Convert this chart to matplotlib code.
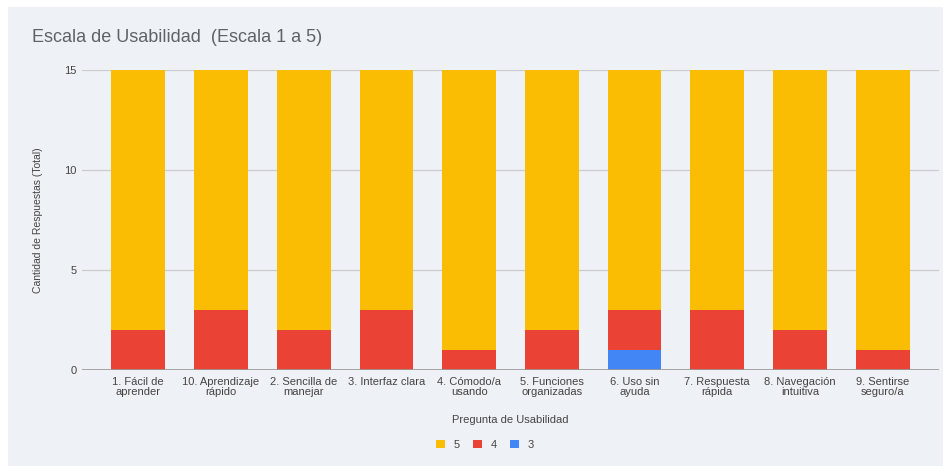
import matplotlib
matplotlib.use("Agg")
import matplotlib.pyplot as plt
from matplotlib.patches import Rectangle
import numpy as np

plt.rcParams["font.family"] = ["Liberation Sans", "DejaVu Sans"]

categories = ["1. Fácil de\naprender", "10. Aprendizaje\nrápido", "2. Sencilla de\nmanejar",
              "3. Interfaz clara", "4. Cómodo/a\nusando", "5. Funciones\norganizadas",
              "6. Uso sin\nayuda", "7. Respuesta\nrápida", "8. Navegación\nintuitiva",
              "9. Sentirse\nseguro/a"]
score_3 = [0, 0, 0, 0, 0, 0, 1, 0, 0, 0]
score_4 = [2, 3, 2, 3, 1, 2, 2, 3, 2, 1]
score_5 = [13, 12, 13, 12, 14, 13, 12, 12, 13, 14]

BG = "#eef1f6"
C5, C4, C3 = "#fbbc04", "#ea4335", "#4285f4"

fig = plt.figure(figsize=(9.45, 4.66), dpi=100)
fig.patch.set_facecolor("white")
fig.patches.append(Rectangle((8 / 945, 0), 1 - 10 / 945, 1 - 7 / 466,
                             transform=fig.transFigure, facecolor=BG,
                             edgecolor="none", zorder=-10))

ax = fig.add_axes([82 / 945, 1 - 370 / 466, (939 - 82) / 945, 300 / 466])
ax.set_facecolor("none")

x = np.arange(len(categories))
w = 0.65
b3 = np.array(score_3)
b4 = b3 + np.array(score_4)
ax.bar(x, score_3, w, color=C3, label="3", zorder=3)
ax.bar(x, score_4, w, bottom=b3, color=C4, label="4", zorder=3)
ax.bar(x, score_5, w, bottom=b4, color=C5, label="5", zorder=3)

ax.set_xlim(-0.68, 9.68)
ax.set_ylim(0, 15)
ax.set_yticks([0, 5, 10, 15])
ax.yaxis.grid(True, color="#cccccc", lw=0.9, zorder=0)
ax.axhline(0, color="#999999", lw=1.2, zorder=4)
for s in ax.spines.values():
    s.set_visible(False)
ax.tick_params(axis="both", length=0, labelsize=8, labelcolor="#444444")
ax.tick_params(axis="y", pad=4)
ax.tick_params(axis="x", pad=5)
ax.set_xticks(x)
ax.set_xticklabels(categories, linespacing=0.95)

ax.set_ylabel("Cantidad de Respuestas (Total)", fontsize=7.5, color="#444444", labelpad=15)
ax.set_xlabel("Pregunta de Usabilidad", fontsize=8, color="#444444", labelpad=13)

fig.text(32 / 945, 1 - 38 / 466, "Escala de Usabilidad  (Escala 1 a 5)", fontsize=13,
         color="#5f6368", va="center", ha="left")

handles, labels = ax.get_legend_handles_labels()
leg = fig.legend(handles[::-1], labels[::-1], loc="center", ncol=3,
                 bbox_to_anchor=(485 / 945, 1 - 445 / 466), frameon=False,
                 fontsize=8, handlelength=0.8, handleheight=0.8, handletextpad=0.8,
                 columnspacing=1.2)
for t in leg.get_texts():
    t.set_color("#444444")

fig.savefig("out.png", dpi=100, facecolor=fig.get_facecolor())
